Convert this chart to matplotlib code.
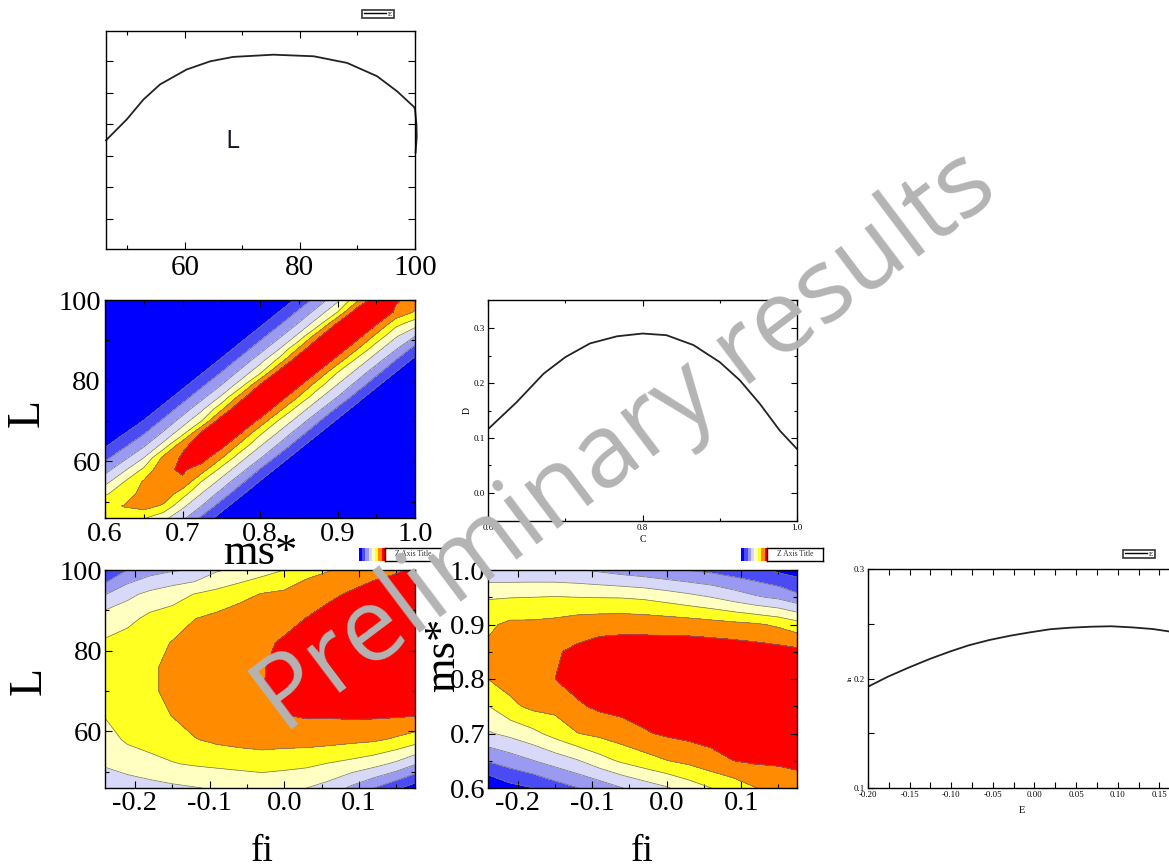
import matplotlib
matplotlib.use('Agg')

import matplotlib.pyplot as plt
import numpy as np
from matplotlib.colors import ListedColormap
from matplotlib.lines import Line2D

plt.rcParams['axes.unicode_minus'] = False
plt.rcParams['font.family'] = ['Liberation Serif', 'DejaVu Serif']

# ---- 1D profiles ----
L_1d = [46.3, 49.9, 52.8, 55.7, 60.3, 64.4, 68.4, 75.4, 82.4, 88.2, 93.4, 96.9, 99.8, 100.0, 100.25, 100.3, 100.1]
P_1d = [3.49, 4.15, 4.78, 5.26, 5.73, 5.99, 6.13, 6.20, 6.15, 5.94, 5.52, 5.04, 4.55, 4.48, 4.0, 3.6, 3.1]

C_1d = [0.600, 0.637, 0.672, 0.700, 0.732, 0.767, 0.800, 0.831, 0.866, 0.900, 0.926, 0.952, 0.978, 1.000]
D_1d = [0.116, 0.165, 0.217, 0.247, 0.272, 0.285, 0.290, 0.287, 0.269, 0.238, 0.205, 0.162, 0.113, 0.080]

E_1d = [-0.200, -0.176, -0.151, -0.126, -0.102, -0.079, -0.054, -0.029, -0.005, 0.019,
        0.043, 0.068, 0.092, 0.117, 0.142, 0.158, 0.170]
F_1d = [0.1925, 0.2017, 0.2100, 0.2178, 0.2245, 0.2303, 0.2352, 0.2391, 0.2422, 0.2450,
        0.2464, 0.2473, 0.2477, 0.2467, 0.2452, 0.2434, 0.2420]

# ---- 2D grids (contour level index) ----
# L vs ms*
ms_grid = [0.600, 0.625, 0.650, 0.675, 0.700, 0.725, 0.750, 0.775, 0.800,
           0.825, 0.850, 0.875, 0.900, 0.925, 0.950, 0.975, 1.000]
L_grid = [46, 49, 52, 55, 58, 61, 64, 67, 70, 73, 76, 79, 82, 85, 88, 91, 94, 97, 100]
Z_ms_L = [
    [5.69, 5.50, 5.10, 4.30, 3.26, 1.78, 0.50, -0.78, -2.07, -3, -3, -3, -3, -3, -3, -3, -3],
    [5.69, 6.05, 6.42, 5.85, 4.23, 2.98, 1.50, 0.22, -1.07, -2.35, -3, -3, -3, -3, -3, -3, -3],
    [4.90, 5.40, 6.42, 6.78, 5.41, 3.95, 2.63, 1.22, -0.07, -1.35, -2.63, -3, -3, -3, -3, -3, -3],
    [3.65, 5.00, 6.10, 6.78, 6.83, 4.95, 3.68, 2.27, 0.93, -0.35, -1.63, -2.92, -3, -3, -3, -3, -3],
    [2.60, 3.83, 5.20, 6.78, 7.15, 6.48, 4.67, 3.40, 1.93, 0.65, -0.63, -1.92, -3, -3, -3, -3, -3],
    [1.72, 2.73, 3.96, 6.20, 7.15, 7.51, 6.13, 4.38, 3.13, 1.65, 0.37, -0.92, -2.20, -3, -3, -3, -3],
    [0.85, 1.81, 2.84, 4.31, 6.77, 7.51, 7.41, 5.68, 4.10, 2.81, 1.37, 0.08, -1.20, -2.48, -3, -3, -3],
    [0.00, 0.96, 1.91, 3.13, 4.67, 7.28, 7.88, 7.02, 5.18, 3.82, 2.46, 1.08, -0.20, -1.48, -2.77, -3, -3],
    [-0.85, 0.10, 1.06, 2.17, 3.46, 5.04, 7.72, 8.24, 6.67, 4.82, 3.55, 2.10, 0.80, -0.48, -1.77, -3, -3],
    [-1.70, -0.76, 0.20, 1.30, 2.44, 3.79, 5.75, 8.15, 8.00, 6.31, 4.53, 3.27, 1.80, 0.52, -0.77, -2.05, -3],
    [-2.55, -1.61, -0.66, 0.44, 1.54, 2.70, 4.13, 6.42, 8.59, 7.61, 5.94, 4.25, 3.00, 1.52, 0.23, -1.05, -2.33],
    [-3, -2.47, -1.51, -0.41, 0.69, 1.79, 2.97, 4.48, 7.05, 8.98, 7.23, 5.44, 3.97, 2.65, 1.23, -0.05, -1.33],
    [-3, -3, -2.37, -1.27, -0.17, 0.93, 2.03, 3.29, 4.83, 7.49, 8.59, 6.85, 4.97, 3.69, 2.29, 0.95, -0.33],
    [-3, -3, -3, -2.13, -1.03, 0.07, 1.17, 2.30, 3.62, 5.38, 7.92, 8.20, 6.50, 4.68, 3.42, 1.95, 0.67],
    [-3, -3, -3, -3, -1.89, -0.79, 0.31, 1.41, 2.56, 3.94, 6.08, 8.36, 7.82, 6.15, 4.40, 3.15, 1.67],
    [-3, -3, -3, -3, -2.74, -1.64, -0.54, 0.56, 1.66, 2.83, 4.29, 6.73, 8.79, 7.43, 5.71, 4.12, 3.00],
    [-3, -3, -3, -3, -3, -2.50, -1.40, -0.30, 0.80, 1.90, 3.12, 4.65, 7.26, 8.80, 7.05, 5.30, 4.40],
    [-3, -3, -3, -3, -3, -3, -2.26, -1.16, -0.06, 1.04, 2.16, 3.44, 5.00, 7.69, 8.41, 6.80, 5.90],
    [-3, -3, -3, -3, -3, -3, -3, -2.01, -0.91, 0.19, 1.29, 2.42, 3.77, 5.71, 7.80, 7.15, 6.50],
]

# L vs fi
fi_grid = [-0.24, -0.21, -0.18, -0.15, -0.12, -0.09, -0.06, -0.03, 0.00, 0.03, 0.06, 0.09, 0.12, 0.15, 0.18]
L_grid2 = [46, 52, 58, 64, 70, 76, 82, 88, 94, 100]
Z_fi_L = [
    [3.40, 3.50, 3.60, 3.80, 3.95, 4.10, 4.20, 4.30, 4.20, 4.00, 3.60, 2.80, 2.00, 1.20, 0.30],
    [4.10, 4.40, 4.75, 4.95, 5.10, 5.20, 5.30, 5.40, 5.30, 5.20, 4.95, 4.70, 4.35, 3.80, 2.95],
    [4.60, 5.15, 5.30, 5.50, 5.95, 6.20, 6.35, 6.45, 6.40, 6.40, 6.35, 6.25, 6.15, 5.85, 5.40],
    [5.05, 5.50, 5.60, 6.03, 6.40, 6.55, 6.70, 6.82, 6.98, 7.10, 7.10, 7.15, 7.15, 7.12, 7.05],
    [5.25, 5.65, 5.80, 6.30, 6.60, 6.75, 6.85, 6.97, 7.30, 7.50, 7.60, 7.70, 7.70, 7.75, 7.80],
    [5.25, 5.65, 5.80, 6.30, 6.60, 6.75, 6.85, 6.92, 7.35, 7.60, 7.80, 7.95, 8.00, 8.05, 8.10],
    [5.10, 5.45, 5.60, 6.05, 6.40, 6.60, 6.75, 6.85, 7.10, 7.40, 7.60, 7.85, 8.00, 8.10, 8.20],
    [4.55, 4.70, 5.25, 5.45, 5.98, 6.25, 6.50, 6.65, 6.75, 7.02, 7.30, 7.55, 7.80, 7.90, 8.00],
    [2.95, 3.75, 4.25, 4.60, 5.03, 5.30, 5.70, 6.05, 6.20, 6.50, 6.85, 7.10, 7.40, 7.55, 7.70],
    [0.90, 2.00, 2.60, 2.90, 3.05, 3.90, 4.20, 4.60, 5.00, 5.70, 5.95, 6.50, 6.70, 6.90, 7.15],
]

# ms* vs fi
ms_grid2 = [0.60, 0.65, 0.70, 0.75, 0.80, 0.85, 0.90, 0.95, 1.00]
Z_fi_ms = [
    [0.00, 0.67, 0.97, 1.50, 1.97, 2.40, 2.97, 3.45, 3.90, 4.48, 5.00, 5.42, 5.98, 6.20, 6.50],
    [2.07, 2.50, 2.96, 3.44, 3.92, 4.61, 5.16, 5.59, 5.97, 6.26, 6.65, 7.00, 7.15, 7.20, 7.30],
    [3.89, 4.26, 4.72, 5.36, 5.97, 6.24, 6.57, 6.90, 7.15, 7.30, 7.40, 7.45, 7.50, 7.55, 7.60],
    [4.96, 5.76, 6.25, 6.31, 6.85, 7.20, 7.30, 7.45, 7.60, 7.70, 7.75, 7.80, 7.80, 7.80, 7.80],
    [6.00, 6.40, 6.55, 7.00, 7.40, 7.60, 7.70, 7.75, 7.85, 7.90, 7.90, 7.90, 7.85, 7.80, 7.75],
    [6.20, 6.50, 6.60, 6.90, 7.20, 7.45, 7.50, 7.55, 7.60, 7.65, 7.65, 7.60, 7.50, 7.40, 7.25],
    [5.83, 6.20, 6.20, 6.30, 6.54, 6.65, 6.70, 6.66, 6.60, 6.53, 6.40, 6.26, 6.12, 5.83, 5.33],
    [4.92, 4.97, 5.00, 5.05, 5.00, 4.97, 4.95, 4.84, 4.60, 4.31, 4.00, 3.57, 3.12, 2.81, 2.20],
    [3.20, 3.20, 3.20, 3.15, 3.05, 2.85, 2.60, 2.40, 2.15, 1.95, 1.76, 1.47, 1.20, 0.80, 0.50],
]

levels = [-10, 1, 2, 3, 4, 5, 6, 7, 20]
band_colors = ['#0000ff', '#4b4bf6', '#9a9af2', '#d8d8f8', '#ffffc2', '#ffff22', '#ff8c00', '#ff0000']

W, H = 1169, 868
fig = plt.figure(figsize=(W / 100, H / 100), dpi=100)


def box(x0, y0, x1, y1):
    # pixel box (top-left origin) -> figure fraction
    return [x0 / W, 1 - y1 / H, (x1 - x0) / W, (y1 - y0) / H]


def tick_style(ax, size, pad, maj=5, mnr=3):
    ax.tick_params(which='both', direction='in', top=True, right=True,
                   labelsize=size, pad=pad, colors='black')
    ax.tick_params(which='major', length=maj, width=0.8)
    ax.tick_params(which='minor', length=mnr, width=0.8)
    for s in ax.spines.values():
        s.set_linewidth(1.0)


def contour_panel(ax, x, y, z):
    ax.contourf(x, y, z, levels=levels, colors=band_colors)
    ax.contour(x, y, z, levels=levels[1:-1], colors='#707070', linewidths=0.5)


# top-left: profile of L
axA = fig.add_axes(box(106, 31, 415, 249))
axA.plot(L_1d, P_1d, color='#222222', lw=1.3, clip_on=False)
axA.set_xlim(46.3, 100)
axA.set_ylim(0.05, 6.95)
axA.set_xticks([60, 80, 100])
axA.set_xticks([50, 70, 90], minor=True)
axA.set_yticks([1, 2, 3, 4, 5, 6])
axA.set_yticklabels([])
tick_style(axA, 21, 4)
axA.text(68.2, 3.45, 'L', fontsize=19, family='Open Sans', color='#15152a', ha='center', va='center')
legA = axA.legend([Line2D([0], [0], color='k', lw=1.0)], ['E'], loc='center',
                  bbox_to_anchor=(378 / W, 1 - 14 / H), bbox_transform=fig.transFigure,
                  fontsize=5, frameon=True, fancybox=False, edgecolor='k',
                  handlelength=3.2, handletextpad=0.3, borderpad=0.2, borderaxespad=0)
legA.get_frame().set_linewidth(1.2)

# middle-left: L vs ms*
axB = fig.add_axes(box(105, 300, 415, 518))
contour_panel(axB, ms_grid, L_grid, Z_ms_L)
axB.set_xlim(0.6, 1.0)
axB.set_ylim(46, 100)
axB.set_xticks([0.6, 0.7, 0.8, 0.9, 1.0])
axB.set_xticklabels(['0.6', '0.7', '0.8', '0.9', '1.0'])
axB.set_xticks([0.65, 0.75, 0.85, 0.95], minor=True)
axB.set_yticks([60, 80, 100])
axB.set_yticks([50, 70, 90], minor=True)
tick_style(axB, 20.5, 3)
axB.text(-0.252, 0.48, 'L', transform=axB.transAxes, rotation=90, fontsize=33, ha='center', va='center')
axB.text(0.5, -0.07, 'ms*', transform=axB.transAxes, fontsize=32, ha='center', va='top')

# middle-right: D vs C
axC = fig.add_axes(box(488, 300, 797, 521))
axC.plot(C_1d, D_1d, color='#222222', lw=1.3)
axC.set_xlim(0.6, 1.0)
axC.set_ylim(-0.051, 0.351)
axC.set_xticks([0.6, 0.8, 1.0])
axC.set_xticklabels(['0.6', '0.8', '1.0'])
axC.set_xticks([0.7, 0.9], minor=True)
axC.set_yticks([0.0, 0.1, 0.2, 0.3])
axC.set_yticklabels(['0.0', '0.1', '0.2', '0.3'])
axC.set_yticks([0.05, 0.15, 0.25], minor=True)
tick_style(axC, 6.5, 2, maj=4, mnr=2.5)
axC.set_xlabel('C', fontsize=7, labelpad=2)
axC.set_ylabel('D', fontsize=7, labelpad=2)

# bottom-left: L vs fi
axD = fig.add_axes(box(105, 570, 415, 788))
contour_panel(axD, fi_grid, L_grid2, Z_fi_L)
axD.set_xlim(-0.24, 0.175)
axD.set_ylim(46, 100)
axD.set_xticks([-0.2, -0.1, 0.0, 0.1])
axD.set_xticklabels(['-0.2', '-0.1', '0.0', '0.1'])
axD.set_xticks([-0.15, -0.05, 0.05, 0.15], minor=True)
axD.set_yticks([60, 80, 100])
axD.set_yticks([50, 70, 90], minor=True)
tick_style(axD, 20.5, 2)
axD.text(-0.245, 0.49, 'L', transform=axD.transAxes, rotation=90, fontsize=33, ha='center', va='center')
axD.text(0.506, -0.294, 'fi', transform=axD.transAxes, fontsize=27, ha='center', va='center')

# bottom-middle: ms* vs fi
axE = fig.add_axes(box(488, 570, 797, 788))
contour_panel(axE, fi_grid, ms_grid2, Z_fi_ms)
axE.set_xlim(-0.24, 0.175)
axE.set_ylim(0.6, 1.0)
axE.set_xticks([-0.2, -0.1, 0.0, 0.1])
axE.set_xticklabels(['-0.2', '-0.1', '0.0', '0.1'])
axE.set_xticks([-0.15, -0.05, 0.05, 0.15], minor=True)
axE.set_yticks([0.6, 0.7, 0.8, 0.9, 1.0])
axE.set_yticklabels(['0.6', '0.7', '0.8', '0.9', '1.0'])
axE.set_yticks([0.65, 0.75, 0.85, 0.95], minor=True)
tick_style(axE, 20.5, 2)
axE.text(-0.146, 0.61, 'ms*', transform=axE.transAxes, rotation=90, fontsize=32, ha='center', va='center')
axE.text(0.50, -0.294, 'fi', transform=axE.transAxes, fontsize=27, ha='center', va='center')

# bottom-right: profile vs E
axF = fig.add_axes(box(868, 569, 1176, 788))
axF.plot(E_1d, F_1d, color='#222222', lw=1.3)
axF.set_xlim(-0.2, 0.17)
axF.set_ylim(0.1, 0.3)
axF.set_xticks([-0.20, -0.15, -0.10, -0.05, 0.00, 0.05, 0.10, 0.15])
axF.set_xticklabels(['-0.20', '-0.15', '-0.10', '-0.05', '0.00', '0.05', '0.10', '0.15'])
axF.set_xticks([-0.175, -0.125, -0.075, -0.025, 0.025, 0.075, 0.125], minor=True)
axF.set_yticks([0.1, 0.2, 0.3])
axF.set_yticklabels(['0.1', '0.2', '0.3'])
axF.set_yticks([0.15, 0.25], minor=True)
tick_style(axF, 6.3, 2, maj=4, mnr=4)
axF.set_xlabel('E', fontsize=7.5, labelpad=5)
axF.set_ylabel('ln', fontsize=5, labelpad=1)
legF = axF.legend([Line2D([0], [0], color='k', lw=1.0)], ['E'], loc='center',
                  bbox_to_anchor=(1139 / W, 1 - 554 / H), bbox_transform=fig.transFigure,
                  fontsize=5, frameon=True, fancybox=False, edgecolor='k',
                  handlelength=3.2, handletextpad=0.3, borderpad=0.2, borderaxespad=0)
legF.get_frame().set_linewidth(1.2)

# little colour keys with "Z Axis Title"
strip_cmap = ListedColormap(band_colors)
for x0 in [359, 741]:
    s = fig.add_axes(box(x0, 548, x0 + 26, 561))
    s.imshow([np.arange(8)], cmap=strip_cmap, aspect='auto')
    s.set_xticks([])
    s.set_yticks([])
    for sp in s.spines.values():
        sp.set_visible(False)
    b = fig.add_axes(box(x0 + 26, 548, x0 + 82, 561))
    b.set_xticks([])
    b.set_yticks([])
    for sp in b.spines.values():
        sp.set_linewidth(1.0)
    b.text(0.5, 0.5, 'Z Axis Title', fontsize=5.5, ha='center', va='center', color='#333333')

# watermark
fig.text(0.5500, 0.4640, 'Preliminary results', rotation=37, rotation_mode='anchor',
         fontsize=74, family='Open Sans', color='#b4b4b4', ha='center', va='baseline', zorder=10)

plt.savefig('out.png', dpi=100)
print("ok")
